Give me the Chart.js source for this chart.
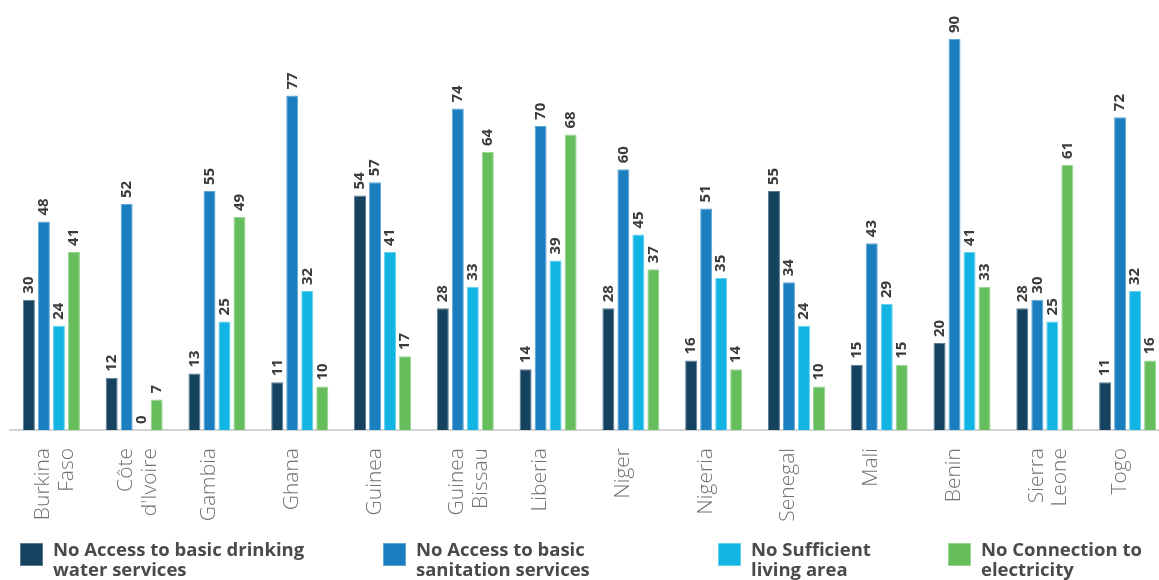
<!DOCTYPE html>
<html>
<head>
<meta charset="utf-8">
<script src="https://cdn.jsdelivr.net/npm/chart.js@4.4.1/dist/chart.umd.min.js"></script>
<style>
  html, body { margin: 0; padding: 0; background: #fff; overflow: hidden; }
  #wrap { position: relative; width: 1169px; height: 580px; }
  #chart-box { position: absolute; left: 0; top: 0; width: 1169px; height: 540px; }
  .key { position: absolute; top: 539px; font-family: "Open Sans", sans-serif; font-weight: 700;
         font-size: 18.5px; line-height: 20px; color: #4a4a4a; }
  .key span { position: absolute; left: 0; top: 4px; width: 21px; height: 21px; }
  .key div { position: absolute; white-space: nowrap; }
</style>
</head>
<body>
<div id="wrap">
  <div id="chart-box"><canvas id="bars"></canvas></div>
  <div id="legend"></div>
</div>
<script>
"use strict";

const countries = [['Burkina', 'Faso'], ['Côte', "d'Ivoire"], 'Gambia', 'Ghana', 'Guinea', ['Guinea', 'Bissau'],
    'Liberia', 'Niger', 'Nigeria', 'Senegal', 'Mali', 'Benin', ['Sierra', 'Leone'], 'Togo'];

const noWater = [30, 12, 13, 11, 54, 28, 14, 28, 16, 55, 15, 20, 28, 11];
const noSanitation = [48, 52, 55, 77, 57, 74, 70, 60, 51, 34, 43, 90, 30, 72];
const noLivingArea = [24, 0, 25, 32, 41, 33, 39, 45, 35, 24, 29, 41, 25, 32];
const noElectricity = [41, 7, 49, 10, 17, 64, 68, 37, 14, 10, 15, 33, 61, 16];

const seriesNames = [
    ['No Access to basic drinking', 'water services'],
    ['No Access to basic', 'sanitation services'],
    ['No Sufficient', 'living area'],
    ['No Connection to', 'electricity']
];
const seriesColors = ['#15435f', '#1b7fbf', '#12b4e4', '#66bd5c'];
const seriesEdges = ['#5d7d92', '#62a7d6', '#66d0ef', '#9bd493'];

// legend entries sit at uneven spots along the bottom
const legendLeft = [20, 383, 718, 948];

const legend = document.getElementById('legend');
for (let i = 0; i < seriesNames.length; i++) {
    const key = document.createElement('div');
    key.className = 'key';
    key.style.left = legendLeft[i] + 'px';
    const box = document.createElement('span');
    box.style.background = seriesColors[i];
    box.style.border = '1px solid ' + seriesEdges[i];
    const txt = document.createElement('div');
    txt.style.left = '33px';
    txt.innerHTML = seriesNames[i].join('<br>');
    key.appendChild(box);
    key.appendChild(txt);
    legend.appendChild(key);
}

// value written upright above each bar
const barValues = {
    id: 'barValues',
    afterDatasetsDraw(chart) {
        const ctx = chart.ctx;
        ctx.save();
        ctx.font = 'bold 15px "Open Sans"';
        ctx.fillStyle = '#3b3b3b';
        ctx.textAlign = 'left';
        ctx.textBaseline = 'middle';
        chart.data.datasets.forEach((ds, d) => {
            chart.getDatasetMeta(d).data.forEach((bar, i) => {
                ctx.save();
                ctx.translate(bar.x, bar.y - 6);
                ctx.rotate(-Math.PI / 2);
                ctx.fillText(String(ds.data[i]), 0, 0);
                ctx.restore();
            });
        });
        ctx.restore();
    }
};

const all = [noWater, noSanitation, noLivingArea, noElectricity];

new Chart(document.getElementById('bars'), {
    type: 'bar',
    data: {
        labels: countries,
        datasets: all.map((vals, i) => ({
            label: seriesNames[i].join(' '),
            data: vals,
            backgroundColor: seriesColors[i],
            borderColor: seriesEdges[i],
            borderWidth: 1,
            categoryPercentage: 0.725,
            barPercentage: 0.8
        }))
    },
    options: {
        responsive: true,
        maintainAspectRatio: false,
        animation: false,
        devicePixelRatio: 1,
        layout: { padding: { left: 10, right: 0, top: 39, bottom: 0 } },
        plugins: { legend: { display: false }, tooltip: { enabled: false } },
        scales: {
            x: {
                grid: { display: false },
                border: { display: true, color: '#d4d4d4', width: 2 },
                ticks: {
                    minRotation: 90,
                    maxRotation: 90,
                    autoSkip: false,
                    padding: 10,
                    labelOffset: -8,
                    color: '#727272',
                    font: { family: 'Open Sans', weight: 300, size: 21, lineHeight: 1.12 }
                },
                afterFit(scale) { scale.height = 110; }
            },
            y: {
                display: false,
                min: 0,
                max: 90
            }
        }
    },
    plugins: [barValues]
});
</script>
</body>
</html>
